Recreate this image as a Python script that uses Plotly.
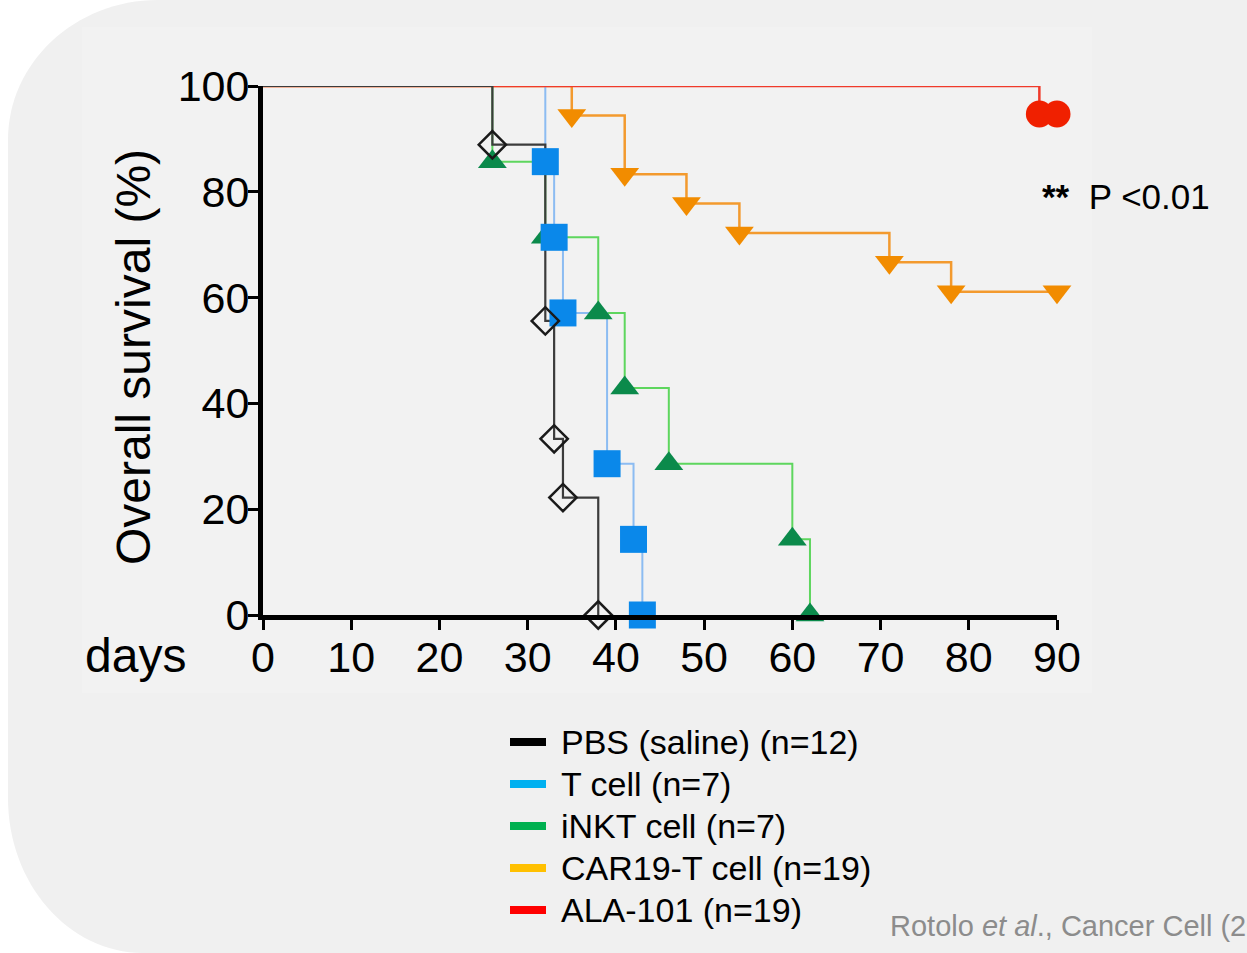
import plotly.graph_objects as go

# ---------------- data ----------------
pbs_days = [0, 26, 32, 33, 34, 38]
pbs_surv = [100, 88.9, 55.6, 33.3, 22.2, 0]

tcell_days = [0, 32, 33, 34, 39, 42, 43]
tcell_surv = [100, 85.7, 71.4, 57.1, 28.6, 14.3, 0]

inkt_days = [0, 26, 32, 38, 41, 46, 60, 62]
inkt_surv = [100, 85.7, 71.4, 57.1, 42.9, 28.6, 14.3, 0]

car_days = [0, 35, 41, 48, 54, 71, 78, 90]
car_surv = [100, 94.4, 83.3, 77.8, 72.2, 66.7, 61.1, 61.1]

ala_days = [0, 88, 90]
ala_surv = [100, 94.7, 94.7]

legend_labels = ["PBS (saline) (n=12)", "T cell (n=7)", "iNKT cell (n=7)",
                 "CAR19-T cell (n=19)", "ALA-101 (n=19)"]
legend_colors = ["#000000", "#00b0f0", "#00b050", "#ffc000", "#ff0000"]

x_ticks = list(range(0, 91, 10))
y_ticks = list(range(0, 101, 20))

# ---------------- layout helpers ----------------
W, H = 1247, 953
PL, PR, PT, PB = 263, 1057, 86, 615   # plot-area edges in pixels
FONT = "Liberation Sans, Arial, sans-serif"


def fx(p):
    return (p - PL) / (PR - PL)


def fy(p):
    return (PB - p) / (PB - PT)


fig = go.Figure()

# name: (days, surv, line colour, marker colour, symbol, size, open, line width)
series = {
    "ala": (ala_days, ala_surv, "#f03a2a", "#f02000", "circle", 27, False, 2.5),
    "car": (car_days, car_surv, "#f39a2e", "#f28c00", "triangle-down", 25, False, 2.5),
    "inkt": (inkt_days, inkt_surv, "#5ed65e", "#0b8a4b", "triangle-up", 25, False, 2),
    "tcell": (tcell_days, tcell_surv, "#8cbcf2", "#0a88ea", "square", 27, False, 2),
    "pbs": (pbs_days, pbs_surv, "#3c3c3c", "#1a1a1a", "diamond-open", 21, True, 2.2),
}

# lines first (red above the other treated groups, PBS on top)
for key in ["car", "inkt", "tcell", "ala", "pbs"]:
    days, surv, lc, mc, sym, size, is_open, lw = series[key]
    fig.add_trace(go.Scatter(
        x=days, y=surv, mode="lines", line=dict(color=lc, width=lw, shape="hv"),
        showlegend=False, hoverinfo="skip", cliponaxis=False))

# then markers
for key in ["ala", "car", "inkt", "tcell", "pbs"]:
    days, surv, lc, mc, sym, size, is_open, lw = series[key]
    marker = dict(symbol=sym, size=size, color=mc)
    if is_open:
        marker["line"] = dict(color=mc, width=2.5)
    else:
        marker["line"] = dict(width=0)
    fig.add_trace(go.Scatter(
        x=days[1:], y=surv[1:], mode="markers", marker=marker,
        showlegend=False, cliponaxis=False))

# ---------------- background panel ----------------
k = 0.5523
left = 8
rxt, ryt = 150, 140
rxb, ryb = 135, 155
pts = [
    ("M", [(left + rxt, 0)]),
    ("L", [(1400, 0)]),
    ("L", [(1400, H)]),
    ("L", [(left + rxb, H)]),
    ("C", [(left + rxb - k * rxb, H), (left, H - ryb + k * ryb), (left, H - ryb)]),
    ("L", [(left, ryt)]),
    ("C", [(left, ryt - k * ryt), (left + rxt - k * rxt, 0), (left + rxt, 0)]),
]
path = ""
for cmd, ps in pts:
    path += cmd + " " + " ".join(f"{fx(a):.5f},{fy(b):.5f}" for a, b in ps) + " "
path += "Z"

shapes = [
    dict(type="path", path=path, xref="paper", yref="paper",
         fillcolor="#f0f0f0", line=dict(width=0), layer="below"),
    dict(type="rect", xref="paper", yref="paper", x0=fx(82), x1=fx(1092),
         y0=fy(693), y1=fy(27), fillcolor="#f2f2f2", line=dict(width=0), layer="below"),
]

annotations = [
    dict(text="Overall survival (%)", x=fx(133), y=fy(357), xref="paper", yref="paper",
         textangle=-90, showarrow=False, xanchor="center", yanchor="middle",
         font=dict(family=FONT, size=48, color="#000000")),
    dict(text="days", x=fx(188), y=fy(655), xref="paper", yref="paper",
         showarrow=False, xanchor="right", yanchor="middle",
         font=dict(family=FONT, size=48, color="#000000")),
    dict(text="<b>**</b>&nbsp; P <0.01", x=fx(1040), y=fy(196), xref="paper", yref="paper",
         showarrow=False, xanchor="left", yanchor="middle",
         font=dict(family=FONT, size=35, color="#000000")),
    dict(text="Rotolo <i>et al</i>., Cancer Cell (2023)", x=fx(888), y=fy(926),
         xref="paper", yref="paper", showarrow=False, xanchor="left", yanchor="middle",
         font=dict(family=FONT, size=29, color="#8c8c8c")),
]

for i, (lab, col) in enumerate(zip(legend_labels, legend_colors)):
    ry = 742 + 42 * i
    shapes.append(dict(type="line", xref="paper", yref="paper",
                       x0=fx(510), x1=fx(546), y0=fy(ry), y1=fy(ry),
                       line=dict(color=col, width=8)))
    annotations.append(dict(text=lab, x=fx(559), y=fy(ry), xref="paper", yref="paper",
                            showarrow=False, xanchor="left", yanchor="middle",
                            font=dict(family=FONT, size=34, color="#000000")))

fig.update_layout(
    width=W, height=H,
    margin=dict(l=PL, r=W - PR, t=PT, b=H - PB, pad=0),
    paper_bgcolor="#ffffff",
    plot_bgcolor="rgba(0,0,0,0)",
    shapes=shapes,
    annotations=annotations,
    showlegend=False,
    xaxis=dict(range=[0, 90], tickvals=x_ticks, ticks="outside", ticklen=10,
               tickwidth=3, tickcolor="#000000", showline=True, linewidth=5,
               linecolor="#000000", showgrid=False, zeroline=False,
               ticklabelstandoff=-10,
               tickfont=dict(family=FONT, size=43, color="#000000")),
    yaxis=dict(range=[0, 100], tickvals=y_ticks, ticks="outside", ticklen=10,
               tickwidth=3, tickcolor="#000000", showline=True, linewidth=5,
               linecolor="#000000", showgrid=False, zeroline=False,
               ticklabelstandoff=-10,
               tickfont=dict(family=FONT, size=43, color="#000000")),
)

fig.write_html("out.html", config={"displayModeBar": False},
               post_script="document.body.style.margin='0';")
